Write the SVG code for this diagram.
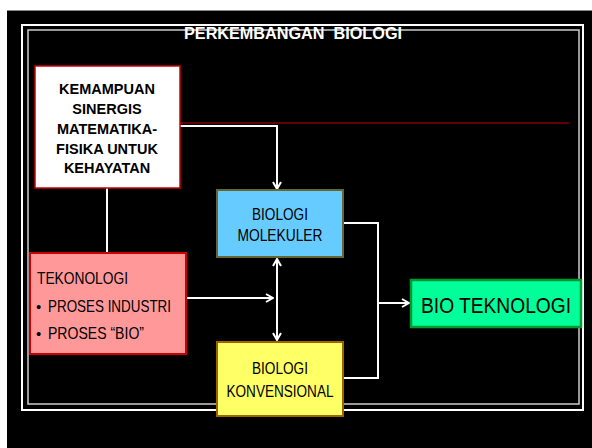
<svg xmlns="http://www.w3.org/2000/svg" width="592" height="448" viewBox="0 0 592 448">
<style>
text{font-family:"Liberation Sans",Arial,sans-serif}
.b{font-weight:bold;font-size:14.5px;fill:#000;text-anchor:middle}
.n{font-size:16px;fill:#000}
.m{text-anchor:middle}
.conn{fill:none;stroke:#fff;stroke-width:2}
</style>
<defs>
<marker id="ah" viewBox="0 0 10 10" refX="9" refY="5" markerWidth="10" markerHeight="10" markerUnits="userSpaceOnUse" orient="auto-start-reverse">
<path d="M2,1 L9,5 L2,9" fill="none" stroke="#fff" stroke-width="2"/>
</marker>
</defs>
<rect x="0" y="0" width="592" height="448" fill="#fff"/>
<rect x="7" y="10" width="585" height="438" fill="#000"/>
<line x1="7" y1="10.5" x2="592" y2="10.5" stroke="#888" stroke-width="1"/>
<g id="frame">
<rect x="22" y="25" width="561" height="385" fill="none" stroke="#fff" stroke-width="2"/>
<rect x="28" y="30" width="551" height="374" fill="none" stroke="#ccc" stroke-width="1.5"/>
</g>
<g id="title">
<text x="293" y="39" font-size="16" font-weight="bold" fill="#fff" text-anchor="middle" textLength="218" lengthAdjust="spacingAndGlyphs">PERKEMBANGAN&#160; BIOLOGI</text>
</g>
<g id="connectors">
<path d="M180,123 H569" fill="none" stroke="#800000" stroke-width="1.5"/>
<path class="conn" d="M180,126 H277 V189" marker-end="url(#ah)"/>
<path class="conn" d="M107,188 V253" stroke-width="1.5"/>
<path class="conn" d="M186,298 H273" marker-end="url(#ah)"/>
<path class="conn" d="M277,259 V340" marker-start="url(#ah)" marker-end="url(#ah)"/>
<path class="conn" d="M343,223 H378 V378 H343"/>
<path class="conn" d="M378,303 H409" marker-end="url(#ah)"/>
</g>
<g id="kemampuan">
<rect x="35" y="66" width="145" height="122" fill="#fff" stroke="#CC0000" stroke-width="1.5"/>
<text class="b" x="107" y="94">KEMAMPUAN</text>
<text class="b" x="107" y="114">SINERGIS</text>
<text class="b" x="107" y="134">MATEMATIKA-</text>
<text class="b" x="107" y="154">FISIKA UNTUK</text>
<text class="b" x="107" y="173">KEHAYATAN</text>
</g>
<g id="molekuler">
<rect x="217" y="190" width="126" height="67" fill="#66CCFF" stroke="#666633" stroke-width="2"/>
<text class="n m" x="280" y="220" textLength="56" lengthAdjust="spacingAndGlyphs">BIOLOGI</text>
<text class="n m" x="280" y="241" textLength="85" lengthAdjust="spacingAndGlyphs">MOLEKULER</text>
</g>
<g id="konvensional">
<rect x="217" y="342" width="126" height="74" fill="#FFFF66" stroke="#996600" stroke-width="2"/>
<text class="n m" x="280" y="374" textLength="56" lengthAdjust="spacingAndGlyphs">BIOLOGI</text>
<text class="n m" x="280" y="397" textLength="107" lengthAdjust="spacingAndGlyphs">KONVENSIONAL</text>
</g>
<g id="bioteknologi">
<rect x="411" y="280" width="170" height="47" fill="#00FF99" stroke="#009933" stroke-width="2.5"/>
<text x="496" y="313" font-size="22" fill="#000" text-anchor="middle" textLength="150" lengthAdjust="spacingAndGlyphs">BIO TEKNOLOGI</text>
</g>
<g id="tekonologi">
<rect x="30" y="253" width="156" height="101" fill="#FF9999" stroke="#CC0000" stroke-width="2"/>
<text x="37" y="284" font-size="17" fill="#000" textLength="91" lengthAdjust="spacingAndGlyphs">TEKONOLOGI</text>
<text x="36" y="312" font-size="15" fill="#000">•</text>
<text x="48" y="312" font-size="17" fill="#000" textLength="123" lengthAdjust="spacingAndGlyphs">PROSES INDUSTRI</text>
<text x="36" y="339" font-size="15" fill="#000">•</text>
<text x="48" y="339" font-size="17" fill="#000" textLength="96" lengthAdjust="spacingAndGlyphs">PROSES “BIO”</text>
</g>
</svg>
